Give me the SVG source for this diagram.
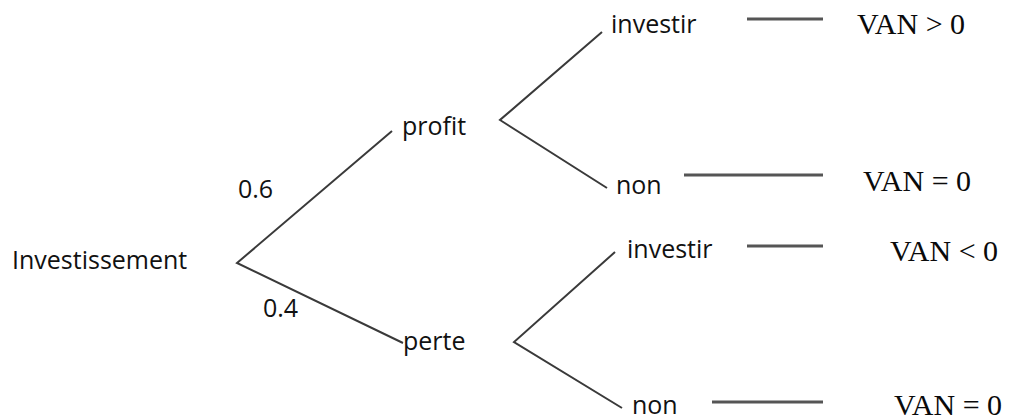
<svg xmlns="http://www.w3.org/2000/svg" width="1011" height="420" viewBox="0 0 1011 420">
<style>
.t{font-family:"Open Sans","Liberation Sans",sans-serif;font-size:25px;fill:#111}
.v{font-family:"Liberation Serif","Times New Roman",serif;font-size:30px;fill:#0a0a0a}
.e{stroke:#3a3a3a;stroke-width:2;fill:none;stroke-linejoin:miter}
.h{stroke:#555;stroke-width:3;fill:none}
</style>
<rect width="1011" height="420" fill="#fff"/>
<g id="connectors">
<polyline class="e" points="392,131 237,263 403,343"/>
<polyline class="e" points="602,32 500,120 607,188"/>
<polyline class="e" points="615,252 514,342 622,408"/>
<line class="h" x1="747" y1="19" x2="823" y2="19"/>
<line class="h" x1="684" y1="175" x2="823" y2="175"/>
<line class="h" x1="747" y1="246" x2="823" y2="246"/>
<line class="h" x1="712" y1="402" x2="823" y2="402"/>
</g>
<g id="root"><text class="t" x="12" y="269">Investissement</text></g>
<g id="p06"><text class="t" x="238" y="198">0.6</text></g>
<g id="p04"><text class="t" x="263" y="317">0.4</text></g>
<g id="profit"><text class="t" x="402" y="135">profit</text></g>
<g id="perte"><text class="t" x="403" y="350">perte</text></g>
<g id="investir1"><text class="t" x="611" y="33">investir</text></g>
<g id="non1"><text class="t" x="616" y="194">non</text></g>
<g id="investir2"><text class="t" x="627" y="258">investir</text></g>
<g id="non2"><text class="t" x="632" y="414">non</text></g>
<g id="van1"><text class="v" x="857" y="34">VAN &gt; 0</text></g>
<g id="van2"><text class="v" x="863" y="191">VAN = 0</text></g>
<g id="van3"><text class="v" x="890" y="261">VAN &lt; 0</text></g>
<g id="van4"><text class="v" x="894" y="415">VAN = 0</text></g>
</svg>
